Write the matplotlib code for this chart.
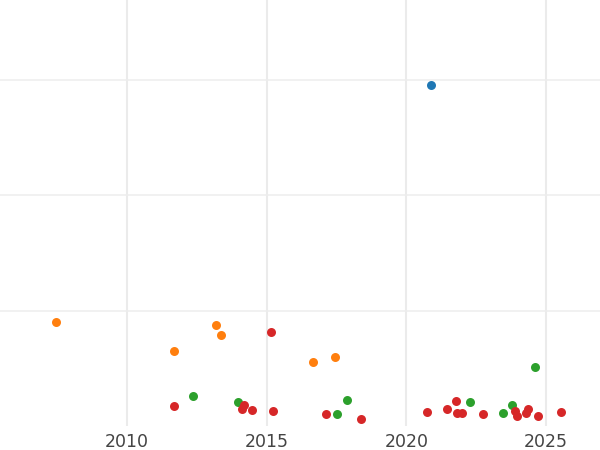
import matplotlib
matplotlib.use('Agg')
import matplotlib.pyplot as plt

# 每个分组的数据点 (年份, 数值)
orange_x = [2007.46, 2011.68, 2013.19, 2013.37, 2016.66, 2017.45]
orange_y = [90.0, 64.9, 87.4, 78.8, 55.4, 59.7]

blue_x = [2020.88]
blue_y = [295.2]

green_x = [2012.36, 2013.97, 2017.88, 2017.52, 2022.28, 2023.46, 2023.78, 2024.61]
green_y = [26.0, 20.8, 22.5, 10.4, 20.8, 11.3, 18.2, 51.1]

red_x = [2011.68, 2015.16, 2014.12, 2014.19, 2014.48, 2015.23, 2017.12, 2018.38,
         2020.74, 2021.46, 2021.78, 2021.82, 2021.99, 2022.75, 2023.89, 2023.96,
         2024.29, 2024.36, 2024.72, 2025.54]
red_y = [17.3, 81.4, 14.7, 18.2, 13.9, 13.0, 10.4, 6.1,
         12.1, 14.7, 21.6, 11.3, 11.3, 10.4, 13.0, 8.7,
         11.3, 14.7, 8.7, 12.1]

x_ticks = [2010, 2015, 2020, 2025]
y_grid = [100, 200, 300]

fig = plt.figure(figsize=(6, 4.5), dpi=100)
ax = fig.add_axes([0, 24 / 450, 1, 426 / 450])

groups = [
    (blue_x, blue_y, '#1f77b4'),
    (orange_x, orange_y, '#ff7f0e'),
    (green_x, green_y, '#2ca02c'),
    (red_x, red_y, '#d62728'),
]
for xs, ys, c in groups:
    ax.scatter(xs, ys, s=42, color=c, linewidths=0, zorder=3)

ax.set_xlim(2005.45, 2026.93)
ax.set_ylim(0, 369.3)
ax.set_xticks(x_ticks)
ax.set_xticklabels([str(t) for t in x_ticks])
ax.set_yticks(y_grid)
ax.set_yticklabels([])

# 竖线略粗，横线细一些
ax.grid(True, axis='x', color='#ebebeb', linewidth=1.5, zorder=0)
ax.grid(True, axis='y', color='#ededed', linewidth=1.1, zorder=0)
ax.set_axisbelow(True)
for sp in ax.spines.values():
    sp.set_visible(False)
ax.tick_params(axis='both', length=0)
ax.tick_params(axis='x', labelsize=12.5, labelcolor='#444444', pad=5)

fig.savefig('out.png', dpi=100)
plt.close(fig)
